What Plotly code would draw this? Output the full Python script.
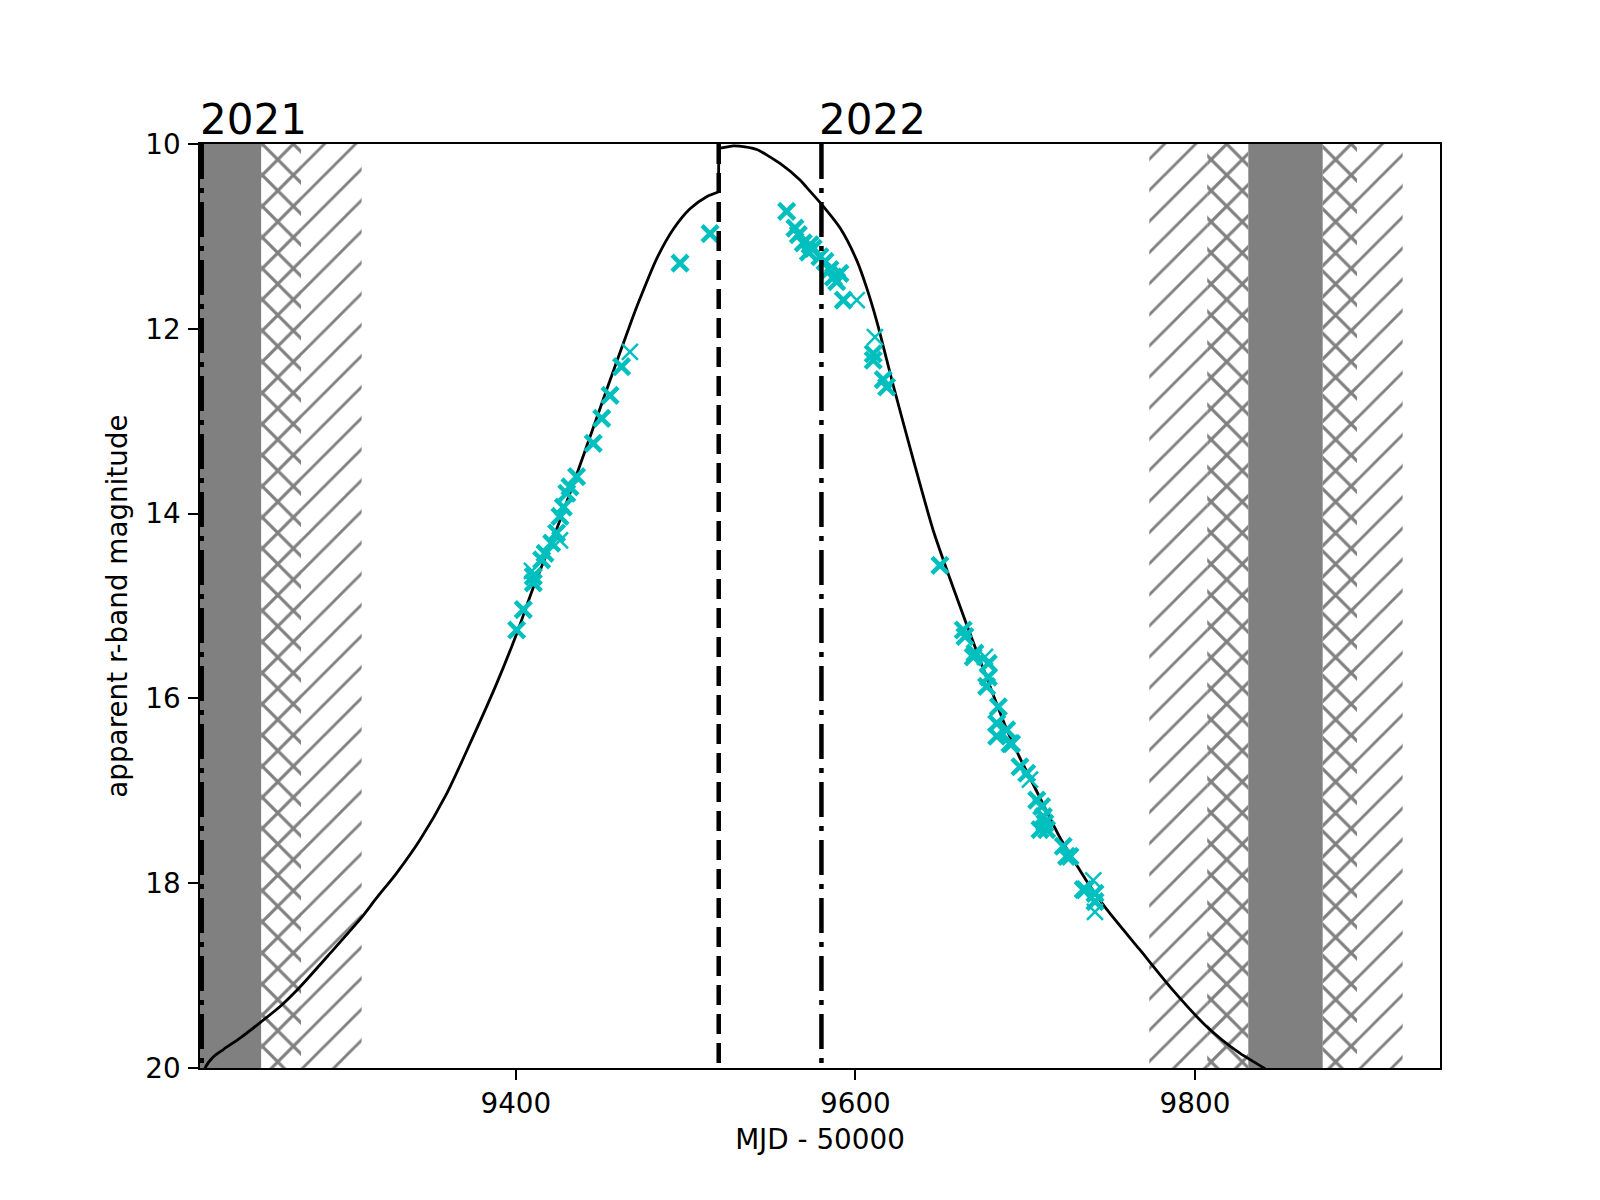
import plotly.graph_objects as go

# ---------------- data ----------------
rise_mjd = [9215.5, 9217.0, 9221.8, 9227.7, 9238.0, 9250.0, 9262.0, 9273.0, 9290.6, 9309.2,
            9318.0, 9329.8, 9343.6, 9359.3, 9373.0, 9388.7, 9400.5, 9410.3, 9424.0, 9435.8,
            9453.5, 9468.2, 9473.2, 9483.0, 9492.8, 9502.6, 9512.4, 9519.3]
rise_mag = [20.15, 20.00, 19.88, 19.80, 19.67, 19.50, 19.32, 19.12, 18.76, 18.37,
            18.16, 17.89, 17.53, 17.03, 16.49, 15.84, 15.30, 14.80, 14.17, 13.58,
            12.66, 11.91, 11.67, 11.24, 10.92, 10.70, 10.57, 10.52]
fall_mjd = [9519.6, 9522.0, 9528.0, 9535.0, 9541.9, 9555.6, 9567.4, 9571.3, 9579.5, 9591.0,
            9600.8, 9606.7, 9612.6, 9618.5, 9622.4, 9634.0, 9645.8, 9655.6, 9665.5, 9677.2,
            9689.0, 9696.8, 9708.0, 9720.3, 9730.2, 9736.0, 9741.1, 9747.9, 9767.5, 9787.1,
            9806.8, 9826.4, 9840.5, 9846.0]
fall_mag = [10.05, 10.04, 10.02, 10.03, 10.06, 10.21, 10.39, 10.47, 10.64, 10.91,
            11.26, 11.56, 11.92, 12.34, 12.62, 13.41, 14.18, 14.70, 15.20, 15.77,
            16.33, 16.64, 17.05, 17.50, 17.80, 17.97, 18.11, 18.28, 18.72, 19.16,
            19.55, 19.84, 20.00, 20.08]

obs_mjd = [9400.5, 9404.4, 9410.3, 9410.3, 9415.2, 9417.2, 9421.1, 9424.0, 9426.0, 9428.0,
           9430.0, 9431.9, 9435.8, 9445.6, 9450.6, 9455.5, 9462.3, 9496.7, 9514.4, 9559.5,
           9564.4, 9566.4, 9569.3, 9572.3, 9573.3, 9575.2, 9579.1, 9582.1, 9585.0, 9587.0,
           9589.0, 9590.9, 9592.9, 9610.5, 9610.5, 9616.4, 9618.4, 9649.8, 9663.5, 9664.5,
           9669.4, 9670.4, 9678.3, 9678.3, 9677.3, 9683.2, 9683.2, 9684.2, 9689.1, 9691.0,
           9692.0, 9696.9, 9700.9, 9706.8, 9709.7, 9710.7, 9711.6, 9712.6, 9708.7, 9722.4,
           9724.4, 9726.4, 9734.2, 9735.2, 9741.1, 9741.1]
obs_mag = [15.26, 15.04, 14.68, 14.75, 14.50, 14.43, 14.32, 14.21, 14.03, 13.93,
           13.78, 13.71, 13.60, 13.24, 12.97, 12.72, 12.41, 11.29, 10.97, 10.73,
           10.91, 10.98, 11.07, 11.17, 11.09, 11.13, 11.22, 11.27, 11.36, 11.44,
           11.49, 11.40, 11.69, 12.27, 12.34, 12.55, 12.63, 14.56, 15.26, 15.33,
           15.55, 15.51, 15.62, 15.77, 15.87, 16.27, 16.41, 16.09, 16.34, 16.49,
           16.49, 16.74, 16.81, 17.10, 17.17, 17.28, 17.35, 17.42, 17.42, 17.60,
           17.71, 17.71, 18.07, 18.07, 18.11, 18.20]

obs_thin_mjd = [9467.2, 9426.0, 9409.5, 9600.8, 9611.5, 9676.3, 9702.8, 9740.1, 9741.1]
obs_thin_mag = [12.25, 14.29, 14.62, 11.69, 12.09, 15.55, 16.88, 17.97, 18.31]

year_mjd = [9215, 9580]
year_labels = ["2021", "2022"]
peak_mjd = 9519.5

gray_bands = [(9214.0, 9250.0), (9831.4, 9875.2)]
cross_bands = [(9250.0, 9273.5), (9807.2, 9831.4), (9875.2, 9895.4)]
diag_bands = [(9273.5, 9309.2), (9773.1, 9807.2), (9895.4, 9922.3)]

x_range = [9214.0, 9944.3]
y_range = [20, 10]
xticks = [9400, 9600, 9800]
yticks = [10, 12, 14, 16, 18, 20]
mag_lo, mag_hi = 10, 20

# ---------------- figure ----------------
fig = go.Figure()
GRAY = "#808080"
CYAN = "#00BFBF"


def band(a, b, **kw):
    fig.add_trace(go.Scatter(x=[a, b, b, a, a], y=[mag_lo, mag_lo, mag_hi, mag_hi, mag_lo],
                             mode="none", fill="toself", hoverinfo="skip", **kw))


for a, b in diag_bands:
    band(a, b, fillcolor="rgba(0,0,0,0)",
         fillpattern=dict(shape="/", fgcolor=GRAY, fgopacity=1, bgcolor="white",
                          size=22, solidity=0.13))
for a, b in cross_bands:
    band(a, b, fillcolor="rgba(0,0,0,0)",
         fillpattern=dict(shape="x", fgcolor=GRAY, fgopacity=1, bgcolor="white",
                          size=22, solidity=0.27))
for a, b in gray_bands:
    band(a, b, fillcolor=GRAY)

line_style = dict(color="black", width=2.8)
fig.add_trace(go.Scatter(x=rise_mjd, y=rise_mag, mode="lines",
                         line=dict(shape="spline", smoothing=0.7, **line_style)))
fig.add_trace(go.Scatter(x=[rise_mjd[-1], fall_mjd[0]], y=[rise_mag[-1], fall_mag[0]],
                         mode="lines", line=line_style))
fig.add_trace(go.Scatter(x=fall_mjd, y=fall_mag, mode="lines",
                         line=dict(shape="spline", smoothing=0.7, **line_style)))

fig.add_trace(go.Scatter(x=obs_mjd, y=obs_mag, mode="markers",
                         marker=dict(symbol="x-thin", size=16, color=CYAN,
                                     line=dict(color=CYAN, width=4.5))))
fig.add_trace(go.Scatter(x=obs_thin_mjd, y=obs_thin_mag, mode="markers",
                         marker=dict(symbol="x-thin", size=16, color=CYAN,
                                     line=dict(color=CYAN, width=2.5))))

for xv in year_mjd:
    fig.add_trace(go.Scatter(x=[xv, xv], y=[mag_lo, mag_hi], mode="lines",
                             line=dict(color="black", width=4.5, dash="35px,9px,5px,9px")))
fig.add_trace(go.Scatter(x=[peak_mjd, peak_mjd], y=[mag_lo, mag_hi], mode="lines",
                         line=dict(color="black", width=4.5, dash="20px,9px")))

for xv, lab in zip(year_mjd, year_labels):
    fig.add_annotation(x=xv, xref="x", y=1, yref="paper", text=lab, showarrow=False,
                       xanchor="left", yanchor="bottom", font=dict(size=42, color="black"),
                       borderpad=0, yshift=-1, xshift=-3)

axis_common = dict(showline=True, linecolor="black", linewidth=2.2, mirror=True,
                   ticks="outside", ticklen=9.7, tickwidth=2.2, tickcolor="black",
                   showgrid=False, zeroline=False,
                   tickfont=dict(size=27.8, color="black"))

fig.update_xaxes(range=x_range, tickvals=xticks, ticktext=[str(t) for t in xticks],
                 ticklabelstandoff=0,
                 title=dict(text="MJD - 50000", font=dict(size=27.8, color="black"), standoff=10),
                 **axis_common)
fig.update_yaxes(range=y_range, tickvals=yticks, ticktext=[str(t) for t in yticks],
                 ticklabelstandoff=2,
                 title=dict(text="apparent r-band magnitude", font=dict(size=27.8, color="black"),
                            standoff=10),
                 **axis_common)

fig.update_layout(width=1600, height=1200, autosize=False,
                  margin=dict(l=192, r=168, t=136, b=140),
                  paper_bgcolor="white", plot_bgcolor="white",
                  showlegend=False,
                  font=dict(family="DejaVu Sans", color="black"))

fig.write_html("out.html")
